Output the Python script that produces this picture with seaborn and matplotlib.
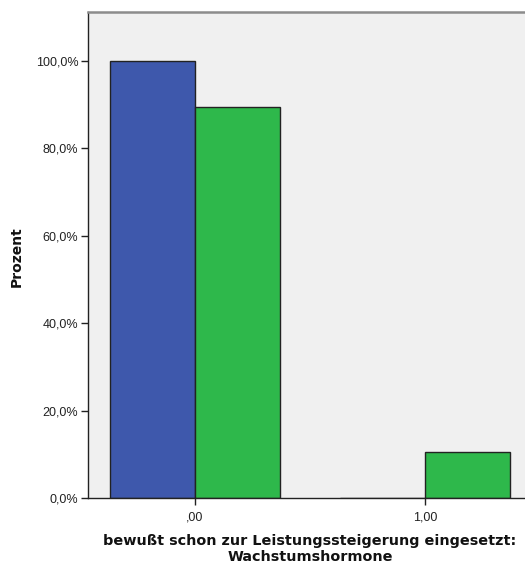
import matplotlib
matplotlib.use("Agg")
import matplotlib.pyplot as plt
import matplotlib.ticker as mticker
import seaborn as sns
import pandas as pd

# Answer categories on the x axis and the two compared groups
categories = [",00", ",00", "1,00", "1,00"]
groups = ["Gruppe A", "Gruppe B", "Gruppe A", "Gruppe B"]
percent = [100.0, 89.5, 0.0, 10.5]

palette = {"Gruppe A": "#3E58AC", "Gruppe B": "#2EB84B"}

df = pd.DataFrame({"Kategorie": categories, "Gruppe": groups, "Prozent": percent})

sns.set_theme(style="white")
plt.rcParams["font.family"] = ["Liberation Sans", "DejaVu Sans"]

W, H = 525, 569
fig = plt.figure(figsize=(W / 100, H / 100), dpi=100)
left, right, top, bottom = 88, 532, 12, 498
ax = fig.add_axes([left / W, 1 - bottom / H, (right - left) / W, (bottom - top) / H])
ax.set_facecolor("#F0F0F0")

sns.barplot(
    data=df, x="Kategorie", y="Prozent", hue="Gruppe",
    palette=palette, width=0.74, dodge=True, legend=False,
    edgecolor="#222222", linewidth=1.0, saturation=1, ax=ax,
)

ax.set_xlim(-0.465, (right - 195) / 230)
ax.set_ylim(0, 111.2)
ax.set_yticks([0, 20, 40, 60, 80, 100])
ax.yaxis.set_major_formatter(
    mticker.FuncFormatter(lambda v, p: f"{v:.1f}%".replace(".", ","))
)

for name, sp in ax.spines.items():
    sp.set_visible(True)
    sp.set_color("#222222")
    sp.set_linewidth(1.0)
ax.spines["top"].set_color("#8C8C8C")
ax.spines["top"].set_linewidth(1.8)

ax.tick_params(axis="both", which="major", direction="out", length=5, width=1,
               color="#222222", labelsize=9, labelcolor="#222222",
               bottom=True, left=True)
ax.tick_params(axis="x", pad=5)
ax.tick_params(axis="y", pad=2)

bold = dict(family=["DejaVu Sans"], fontweight="bold", color="#111111")
ax.set_ylabel("")
ax.set_xlabel("")
fig.text(17 / W, 1 - 257 / H, "Prozent", rotation=90, ha="center", va="center",
         fontsize=10, **bold)
fig.text(310 / W, 1 - 549 / H,
         "bewußt schon zur Leistungssteigerung eingesetzt:\nWachstumshormone",
         ha="center", va="center", linespacing=1.2, fontsize=10.4, **bold)

fig.savefig("out.png", dpi=100)
